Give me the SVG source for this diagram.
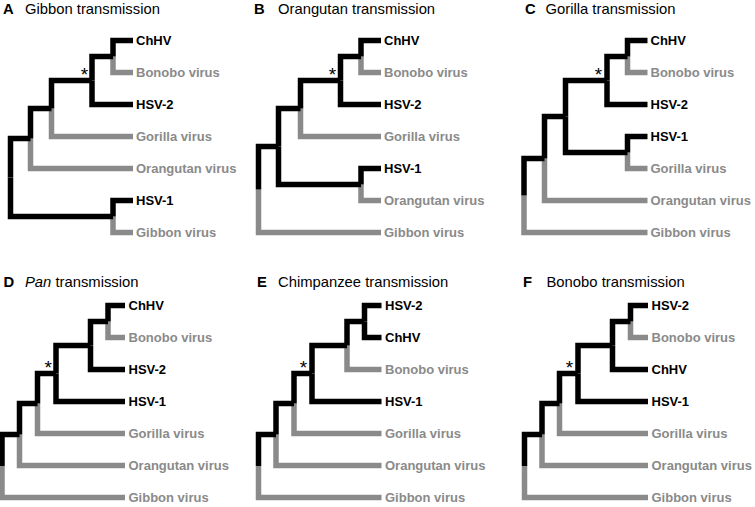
<svg xmlns="http://www.w3.org/2000/svg" width="755" height="507" viewBox="0 0 755 507">
<style>
path{fill:none;stroke-width:5.5;stroke-linejoin:miter;stroke-linecap:butt}
.k{stroke:#000}
.g{stroke:#8a8a8a}
text{font-family:"Liberation Sans",Arial,sans-serif}
.lb{font-size:13px;font-weight:bold;fill:#000}
.lg{font-size:13px;font-weight:bold;fill:#8a8a8a}
.tt{font-size:14.8px;fill:#000}
.tl{font-size:14.8px;font-weight:bold;fill:#000}
.ast{font-size:19px;fill:#000;text-anchor:middle}
</style>
<rect width="755" height="507" fill="#fff"/>

<!-- Panel A -->
<g id="panelA">
<g id="titleA"><text class="tl" x="3" y="14">A</text><text class="tt" x="25" y="14">Gibbon transmission</text></g>
<g id="edgesA">
<path class="g" d="M30.5 138.5V168.5H133"/>
<path class="g" d="M51.5 108.5V136.5H133"/>
<path class="g" d="M113 56.5V72.5H133"/>
<path class="g" d="M113 216.5V232.5H133"/>
<path class="k" d="M10.5 177.5V138.5H30.5"/>
<path class="k" d="M10.5 177.5V216.5H113"/>
<path class="k" d="M30.5 138.5V108.5H51.5"/>
<path class="k" d="M51.5 108.5V80.5H92"/>
<path class="k" d="M92 80.5V56.5H113"/>
<path class="k" d="M92 80.5V104.5H133"/>
<path class="k" d="M113 56.5V40.5H133"/>
<path class="k" d="M113 216.5V200.5H133"/>
</g>
<text class="ast" x="84.5" y="80.8">*</text>
<g id="A-ChHV"><text class="lb" x="136" y="45.2">ChHV</text></g>
<g id="A-Bonobo"><text class="lg" x="136" y="77.2">Bonobo virus</text></g>
<g id="A-HSV2"><text class="lb" x="136" y="109.2">HSV-2</text></g>
<g id="A-Gorilla"><text class="lg" x="136" y="141.2">Gorilla virus</text></g>
<g id="A-Orangutan"><text class="lg" x="136" y="173.2">Orangutan virus</text></g>
<g id="A-HSV1"><text class="lb" x="136" y="205.2">HSV-1</text></g>
<g id="A-Gibbon"><text class="lg" x="136" y="237.2">Gibbon virus</text></g>
</g>

<!-- Panel B -->
<g id="panelB">
<g id="titleB"><text class="tl" x="254" y="14">B</text><text class="tt" x="278" y="14">Orangutan transmission</text></g>
<g id="edgesB">
<path class="g" d="M258.5 189.5V232.5H381"/>
<path class="g" d="M300.5 108.5V136.5H381"/>
<path class="g" d="M361 56.5V72.5H381"/>
<path class="g" d="M361 184.5V200.5H381"/>
<path class="k" d="M258.5 189.5V146.5H278.5"/>
<path class="k" d="M278.5 146.5V108.5H300.5"/>
<path class="k" d="M278.5 146.5V184.5H361"/>
<path class="k" d="M300.5 108.5V80.5H340.5"/>
<path class="k" d="M340.5 80.5V56.5H361"/>
<path class="k" d="M340.5 80.5V104.5H381"/>
<path class="k" d="M361 56.5V40.5H381"/>
<path class="k" d="M361 184.5V168.5H381"/>
</g>
<text class="ast" x="332.5" y="80.8">*</text>
<g id="B-ChHV"><text class="lb" x="384" y="45.2">ChHV</text></g>
<g id="B-Bonobo"><text class="lg" x="384" y="77.2">Bonobo virus</text></g>
<g id="B-HSV2"><text class="lb" x="384" y="109.2">HSV-2</text></g>
<g id="B-Gorilla"><text class="lg" x="384" y="141.2">Gorilla virus</text></g>
<g id="B-HSV1"><text class="lb" x="384" y="173.2">HSV-1</text></g>
<g id="B-Orangutan"><text class="lg" x="384" y="205.2">Orangutan virus</text></g>
<g id="B-Gibbon"><text class="lg" x="384" y="237.2">Gibbon virus</text></g>
</g>

<!-- Panel C -->
<g id="panelC">
<g id="titleC"><text class="tl" x="525" y="14">C</text><text class="tt" x="545.5" y="14">Gorilla transmission</text></g>
<g id="edgesC">
<path class="g" d="M524 195.5V232.5H647.5"/>
<path class="g" d="M544.5 158.5V200.5H647.5"/>
<path class="g" d="M627.5 56.5V72.5H647.5"/>
<path class="g" d="M627.5 152.5V168.5H647.5"/>
<path class="k" d="M524 195.5V158.5H544.5"/>
<path class="k" d="M544.5 158.5V116.5H565.5"/>
<path class="k" d="M565.5 116.5V80.5H607"/>
<path class="k" d="M565.5 116.5V152.5H627.5"/>
<path class="k" d="M607 80.5V56.5H627.5"/>
<path class="k" d="M607 80.5V104.5H647.5"/>
<path class="k" d="M627.5 56.5V40.5H647.5"/>
<path class="k" d="M627.5 152.5V136.5H647.5"/>
</g>
<text class="ast" x="598.5" y="80.8">*</text>
<g id="C-ChHV"><text class="lb" x="650.5" y="45.2">ChHV</text></g>
<g id="C-Bonobo"><text class="lg" x="650.5" y="77.2">Bonobo virus</text></g>
<g id="C-HSV2"><text class="lb" x="650.5" y="109.2">HSV-2</text></g>
<g id="C-HSV1"><text class="lb" x="650.5" y="141.2">HSV-1</text></g>
<g id="C-Gorilla"><text class="lg" x="650.5" y="173.2">Gorilla virus</text></g>
<g id="C-Orangutan"><text class="lg" x="650.5" y="205.2">Orangutan virus</text></g>
<g id="C-Gibbon"><text class="lg" x="650.5" y="237.2">Gibbon virus</text></g>
</g>

<!-- Panel D -->
<g id="panelD">
<g id="titleD"><text class="tl" x="3.5" y="287">D</text><text class="tt" x="25" y="287"><tspan font-style="italic">Pan</tspan> transmission</text></g>
<g id="edgesD">
<path class="g" d="M2 466V497.5H125"/>
<path class="g" d="M19.5 434.5V465.5H125"/>
<path class="g" d="M37.5 403.5V433.5H125"/>
<path class="g" d="M108 321.5V337.5H125"/>
<path class="k" d="M2 466V434.5H19.5"/>
<path class="k" d="M19.5 434.5V403.5H37.5"/>
<path class="k" d="M37.5 403.5V373.5H56"/>
<path class="k" d="M56 373.5V345.5H90.5"/>
<path class="k" d="M56 373.5V401.5H125"/>
<path class="k" d="M90.5 345.5V321.5H108"/>
<path class="k" d="M90.5 345.5V369.5H125"/>
<path class="k" d="M108 321.5V305.5H125"/>
</g>
<text class="ast" x="48.3" y="374.3">*</text>
<g id="D-ChHV"><text class="lb" x="128.5" y="310.2">ChHV</text></g>
<g id="D-Bonobo"><text class="lg" x="128.5" y="342.2">Bonobo virus</text></g>
<g id="D-HSV2"><text class="lb" x="128.5" y="374.2">HSV-2</text></g>
<g id="D-HSV1"><text class="lb" x="128.5" y="406.2">HSV-1</text></g>
<g id="D-Gorilla"><text class="lg" x="128.5" y="438.2">Gorilla virus</text></g>
<g id="D-Orangutan"><text class="lg" x="128.5" y="470.2">Orangutan virus</text></g>
<g id="D-Gibbon"><text class="lg" x="128.5" y="502.2">Gibbon virus</text></g>
</g>

<!-- Panel E -->
<g id="panelE">
<g id="titleE"><text class="tl" x="257" y="287">E</text><text class="tt" x="278" y="287">Chimpanzee transmission</text></g>
<g id="edgesE">
<path class="g" d="M258.5 466V497.5H381.5"/>
<path class="g" d="M276 434.5V465.5H381.5"/>
<path class="g" d="M294 403.5V433.5H381.5"/>
<path class="g" d="M347 345.5V369.5H381.5"/>
<path class="k" d="M258.5 466V434.5H276"/>
<path class="k" d="M276 434.5V403.5H294"/>
<path class="k" d="M294 403.5V373.5H312"/>
<path class="k" d="M312 373.5V345.5H347"/>
<path class="k" d="M312 373.5V401.5H381.5"/>
<path class="k" d="M347 345.5V321.5H364.5"/>
<path class="k" d="M364.5 321.5V305.5H381.5"/>
<path class="k" d="M364.5 321.5V337.5H381.5"/>
</g>
<text class="ast" x="303.5" y="374.3">*</text>
<g id="E-HSV2"><text class="lb" x="385" y="310.2">HSV-2</text></g>
<g id="E-ChHV"><text class="lb" x="385" y="342.2">ChHV</text></g>
<g id="E-Bonobo"><text class="lg" x="385" y="374.2">Bonobo virus</text></g>
<g id="E-HSV1"><text class="lb" x="385" y="406.2">HSV-1</text></g>
<g id="E-Gorilla"><text class="lg" x="385" y="438.2">Gorilla virus</text></g>
<g id="E-Orangutan"><text class="lg" x="385" y="470.2">Orangutan virus</text></g>
<g id="E-Gibbon"><text class="lg" x="385" y="502.2">Gibbon virus</text></g>
</g>

<!-- Panel F -->
<g id="panelF">
<g id="titleF"><text class="tl" x="523" y="287">F</text><text class="tt" x="546.5" y="287">Bonobo transmission</text></g>
<g id="edgesF">
<path class="g" d="M524.5 466V497.5H648"/>
<path class="g" d="M542 434.5V465.5H648"/>
<path class="g" d="M559.5 403.5V433.5H648"/>
<path class="g" d="M630.5 321.5V337.5H648"/>
<path class="k" d="M524.5 466V434.5H542"/>
<path class="k" d="M542 434.5V403.5H559.5"/>
<path class="k" d="M559.5 403.5V373.5H578"/>
<path class="k" d="M578 373.5V345.5H612.5"/>
<path class="k" d="M578 373.5V401.5H648"/>
<path class="k" d="M612.5 345.5V321.5H630.5"/>
<path class="k" d="M612.5 345.5V369.5H648"/>
<path class="k" d="M630.5 321.5V305.5H648"/>
</g>
<text class="ast" x="569.5" y="374.3">*</text>
<g id="F-HSV2"><text class="lb" x="651.5" y="310.2">HSV-2</text></g>
<g id="F-Bonobo"><text class="lg" x="651.5" y="342.2">Bonobo virus</text></g>
<g id="F-ChHV"><text class="lb" x="651.5" y="374.2">ChHV</text></g>
<g id="F-HSV1"><text class="lb" x="651.5" y="406.2">HSV-1</text></g>
<g id="F-Gorilla"><text class="lg" x="651.5" y="438.2">Gorilla virus</text></g>
<g id="F-Orangutan"><text class="lg" x="651.5" y="470.2">Orangutan virus</text></g>
<g id="F-Gibbon"><text class="lg" x="651.5" y="502.2">Gibbon virus</text></g>
</g>
</svg>
